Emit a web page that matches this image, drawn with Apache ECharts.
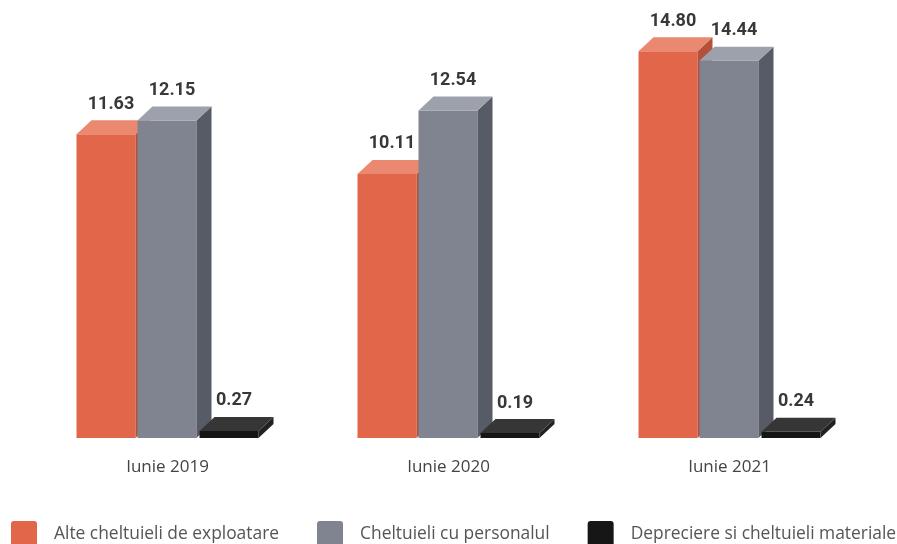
<!DOCTYPE html>
<html>
<head>
<meta charset="utf-8">
<script src="https://cdn.jsdelivr.net/npm/echarts@6/dist/echarts.min.js"></script>
<style>
html,body{margin:0;padding:0;background:#fff;}
#chart{width:897px;height:544px;}
</style>
</head>
<body>
<div id="chart"></div>
<script>
const categories = ['Iunie 2019', 'Iunie 2020', 'Iunie 2021'];
const seriesNames = ['Alte cheltuieli de exploatare', 'Cheltuieli cu personalul', 'Depreciere si cheltuieli materiale'];
const alteCheltuieli = [11.63, 10.11, 14.80];
const cheltuieliPersonal = [12.15, 12.54, 14.44];
const depreciere = [0.27, 0.19, 0.24];

const seriesValues = [alteCheltuieli, cheltuieliPersonal, depreciere];
const faceColors = [
  {front: '#E2664A', top: '#EA8970', side: '#B4513A'},
  {front: '#7F8490', top: '#9DA1AB', side: '#575B65'},
  {front: '#161616', top: '#363636', side: '#222222'}
];
const OFFSETS = [-91 / 281, -30 / 281, 32 / 281];
const BAR_W = 59 / 281;
const DX = 15, DY = -14;

function makeRender(idx) {
  return function (params, api) {
    const c = api.value(0), v = api.value(1);
    const base = api.coord([c, 0]);
    const top = api.coord([c, v]);
    const band = api.size([1, 0])[0];
    const w = BAR_W * band;
    const x0 = base[0] + OFFSETS[idx] * band;
    const x1 = x0 + w;
    const yb = base[1], yt = top[1];
    const col = faceColors[idx];
    return {
      type: 'group',
      children: [
        {type: 'polygon', shape: {points: [[x0, yt], [x1, yt], [x1, yb], [x0, yb]]}, style: {fill: col.front}},
        {type: 'polygon', shape: {points: [[x1, yt], [x1 + DX, yt + DY], [x1 + DX, yb + DY], [x1, yb]]}, style: {fill: col.side}},
        {type: 'polygon', shape: {points: [[x0, yt], [x0 + DX, yt + DY], [x1 + DX, yt + DY], [x1, yt]]}, style: {fill: col.top}},
        {type: 'text', style: {
          x: x0 + w / 2 + 5, y: yt + DY - 7,
          text: v.toFixed(2), textAlign: 'center', textVerticalAlign: 'bottom',
          fill: '#383838', font: 'bold 18px Roboto'
        }}
      ]
    };
  };
}

const ICON = 'path://M3,0 H23 A3,3 0 0 1 26,3 V23 A3,3 0 0 1 23,26 H3 A3,3 0 0 1 0,23 V3 A3,3 0 0 1 3,0 Z';

const chart = echarts.init(document.getElementById('chart'));
chart.setOption({
  animation: false,
  backgroundColor: '#fff',
  grid: {left: 27, right: 27, top: 20, bottom: 106},
  xAxis: {
    type: 'category', data: categories,
    axisLine: {show: false}, axisTick: {show: false}, splitLine: {show: false},
    axisLabel: {margin: 21, fontSize: 17, color: '#444', fontFamily: 'Open Sans'}
  },
  yAxis: {type: 'value', min: 0, max: 16, show: false, splitLine: {show: false}},
  legend: {
    left: 11, top: 521, padding: 0, itemWidth: 26, itemHeight: 26, itemGap: 38,
    icon: ICON,
    data: seriesNames,
    textStyle: {fontSize: 17.4, fontFamily: 'Open Sans', color: '#555', padding: [0, 0, 0, 12]}
  },
  series: seriesValues.map((vals, i) => ({
    type: 'custom',
    name: seriesNames[i],
    itemStyle: {color: faceColors[i].front},
    renderItem: makeRender(i),
    encode: {x: 0, y: 1},
    data: vals.map((v, j) => [j, v])
  }))
});
</script>
</body>
</html>
